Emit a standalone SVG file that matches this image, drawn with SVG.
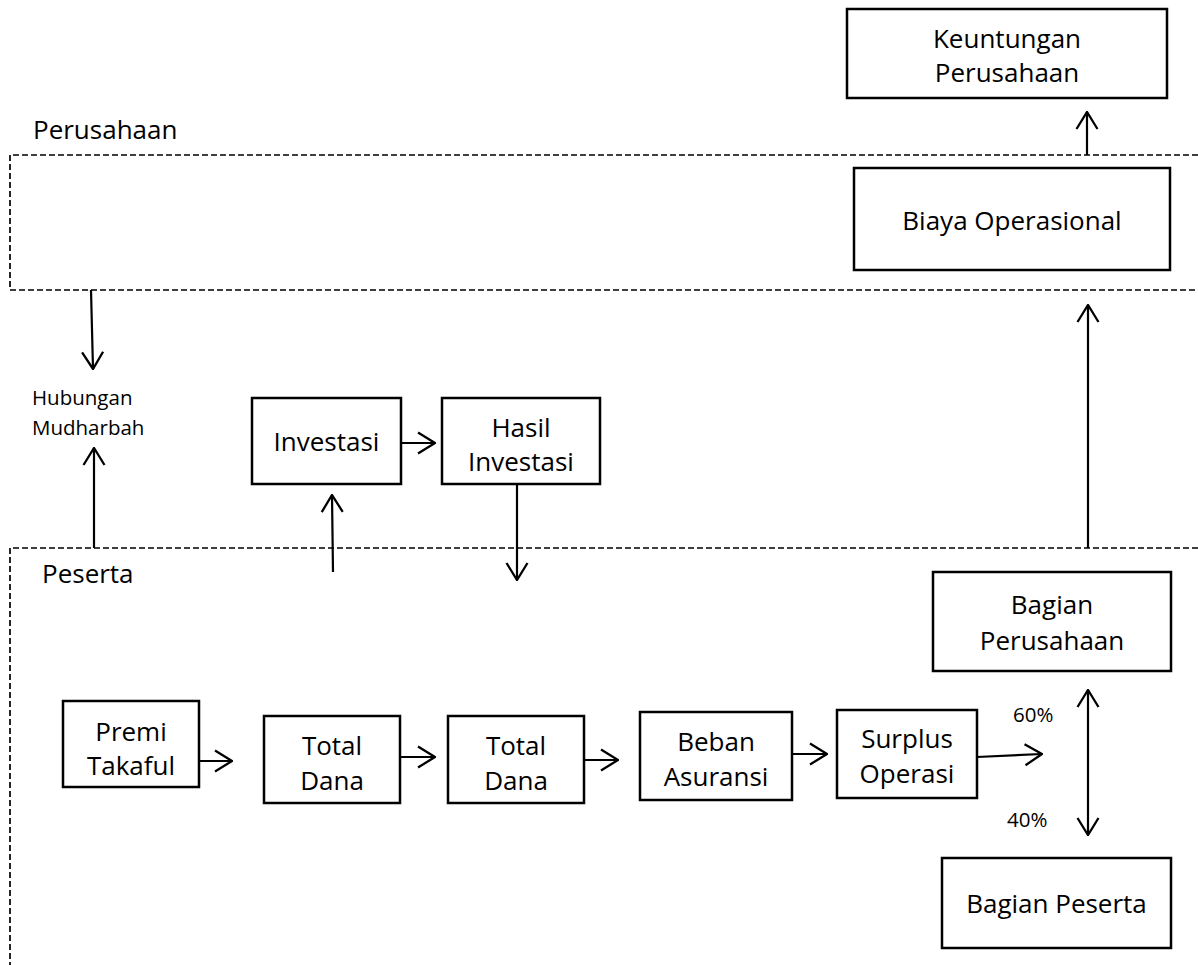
<svg xmlns="http://www.w3.org/2000/svg" width="1198" height="965" viewBox="0 0 1198 965">
<style>
  .box { fill: #fff; stroke: #000; stroke-width: 2.5; }
  .zone { fill: none; stroke: #000; stroke-width: 1.7; stroke-dasharray: 6 3; }
  .t { font-family: "Open Sans", "Liberation Sans", sans-serif; font-size: 26px; fill: #000; text-anchor: middle; }
  .lbl { font-family: "Open Sans", "Liberation Sans", sans-serif; font-size: 26px; fill: #000; }
  .sm { font-family: "Open Sans", "Liberation Sans", sans-serif; font-size: 20.5px; fill: #000; }
  .c { fill: none; stroke: #000; stroke-width: 2.2; marker-end: url(#ah); }
  .d { marker-start: url(#ah); }
</style>
<defs>
  <marker id="ah" viewBox="0 0 19 24" refX="18" refY="12" markerWidth="19" markerHeight="24" markerUnits="userSpaceOnUse" orient="auto-start-reverse">
    <path d="M1,1.5 L18,12 L1,22.5" fill="none" stroke="#000" stroke-width="2.3"/>
  </marker>
</defs>

<g id="zones">
  <path class="zone" d="M1198,155 H10 V290 H1198"/>
  <path class="zone" d="M1198,548 H10 V965"/>
  <text class="lbl" x="33" y="139">Perusahaan</text>
  <text class="lbl" x="42" y="583">Peserta</text>
</g>

<g id="connectors">
  <line class="c" x1="1087" y1="155" x2="1087" y2="112"/>
  <line class="c" x1="1088" y1="548" x2="1088" y2="305"/>
  <line class="c" x1="91" y1="290" x2="93" y2="369"/>
  <line class="c" x1="94" y1="548" x2="94" y2="448"/>
  <line class="c" x1="333" y1="572" x2="332" y2="495"/>
  <line class="c" x1="401" y1="443" x2="435" y2="443"/>
  <line class="c" x1="517" y1="484" x2="517" y2="580"/>
  <line class="c" x1="199" y1="761" x2="232" y2="761"/>
  <line class="c" x1="400" y1="757" x2="435" y2="757"/>
  <line class="c" x1="584" y1="760" x2="618" y2="760"/>
  <line class="c" x1="792" y1="754" x2="827" y2="754"/>
  <line class="c" x1="977" y1="757" x2="1042" y2="754"/>
  <line class="c d" x1="1088" y1="690" x2="1088" y2="835"/>
  <text class="sm" x="1013" y="722">60%</text>
  <text class="sm" x="1007" y="827">40%</text>
</g>

<g id="keuntungan">
  <rect class="box" x="847" y="9" width="320" height="89"/>
  <text class="t" x="1007" y="48">Keuntungan</text>
  <text class="t" x="1007" y="82">Perusahaan</text>
</g>
<g id="biaya">
  <rect class="box" x="854" y="168" width="316" height="102"/>
  <text class="t" x="1012" y="230">Biaya Operasional</text>
</g>
<g id="hubungan">
  <text class="sm" x="32" y="405">Hubungan</text>
  <text class="sm" x="32" y="435">Mudharbah</text>
</g>
<g id="investasi">
  <rect class="box" x="252" y="398" width="149" height="86"/>
  <text class="t" x="326.5" y="451">Investasi</text>
</g>
<g id="hasil">
  <rect class="box" x="442" y="398" width="158" height="86"/>
  <text class="t" x="521" y="437">Hasil</text>
  <text class="t" x="521" y="471">Investasi</text>
</g>
<g id="premi">
  <rect class="box" x="63" y="701" width="136" height="86"/>
  <text class="t" x="131" y="741">Premi</text>
  <text class="t" x="131" y="775">Takaful</text>
</g>
<g id="total1">
  <rect class="box" x="264" y="716" width="136" height="87"/>
  <text class="t" x="332" y="755">Total</text>
  <text class="t" x="332" y="790">Dana</text>
</g>
<g id="total2">
  <rect class="box" x="448" y="716" width="136" height="87"/>
  <text class="t" x="516" y="755">Total</text>
  <text class="t" x="516" y="790">Dana</text>
</g>
<g id="beban">
  <rect class="box" x="640" y="712" width="152" height="88"/>
  <text class="t" x="716" y="751">Beban</text>
  <text class="t" x="716" y="786">Asuransi</text>
</g>
<g id="surplus">
  <rect class="box" x="837" y="710" width="140" height="88"/>
  <text class="t" x="907" y="748">Surplus</text>
  <text class="t" x="907" y="783">Operasi</text>
</g>
<g id="bagian-perusahaan">
  <rect class="box" x="933" y="572" width="238" height="99"/>
  <text class="t" x="1052" y="614">Bagian</text>
  <text class="t" x="1052" y="650">Perusahaan</text>
</g>
<g id="bagian-peserta">
  <rect class="box" x="942" y="858" width="229" height="90"/>
  <text class="t" x="1056.5" y="913">Bagian Peserta</text>
</g>
</svg>
